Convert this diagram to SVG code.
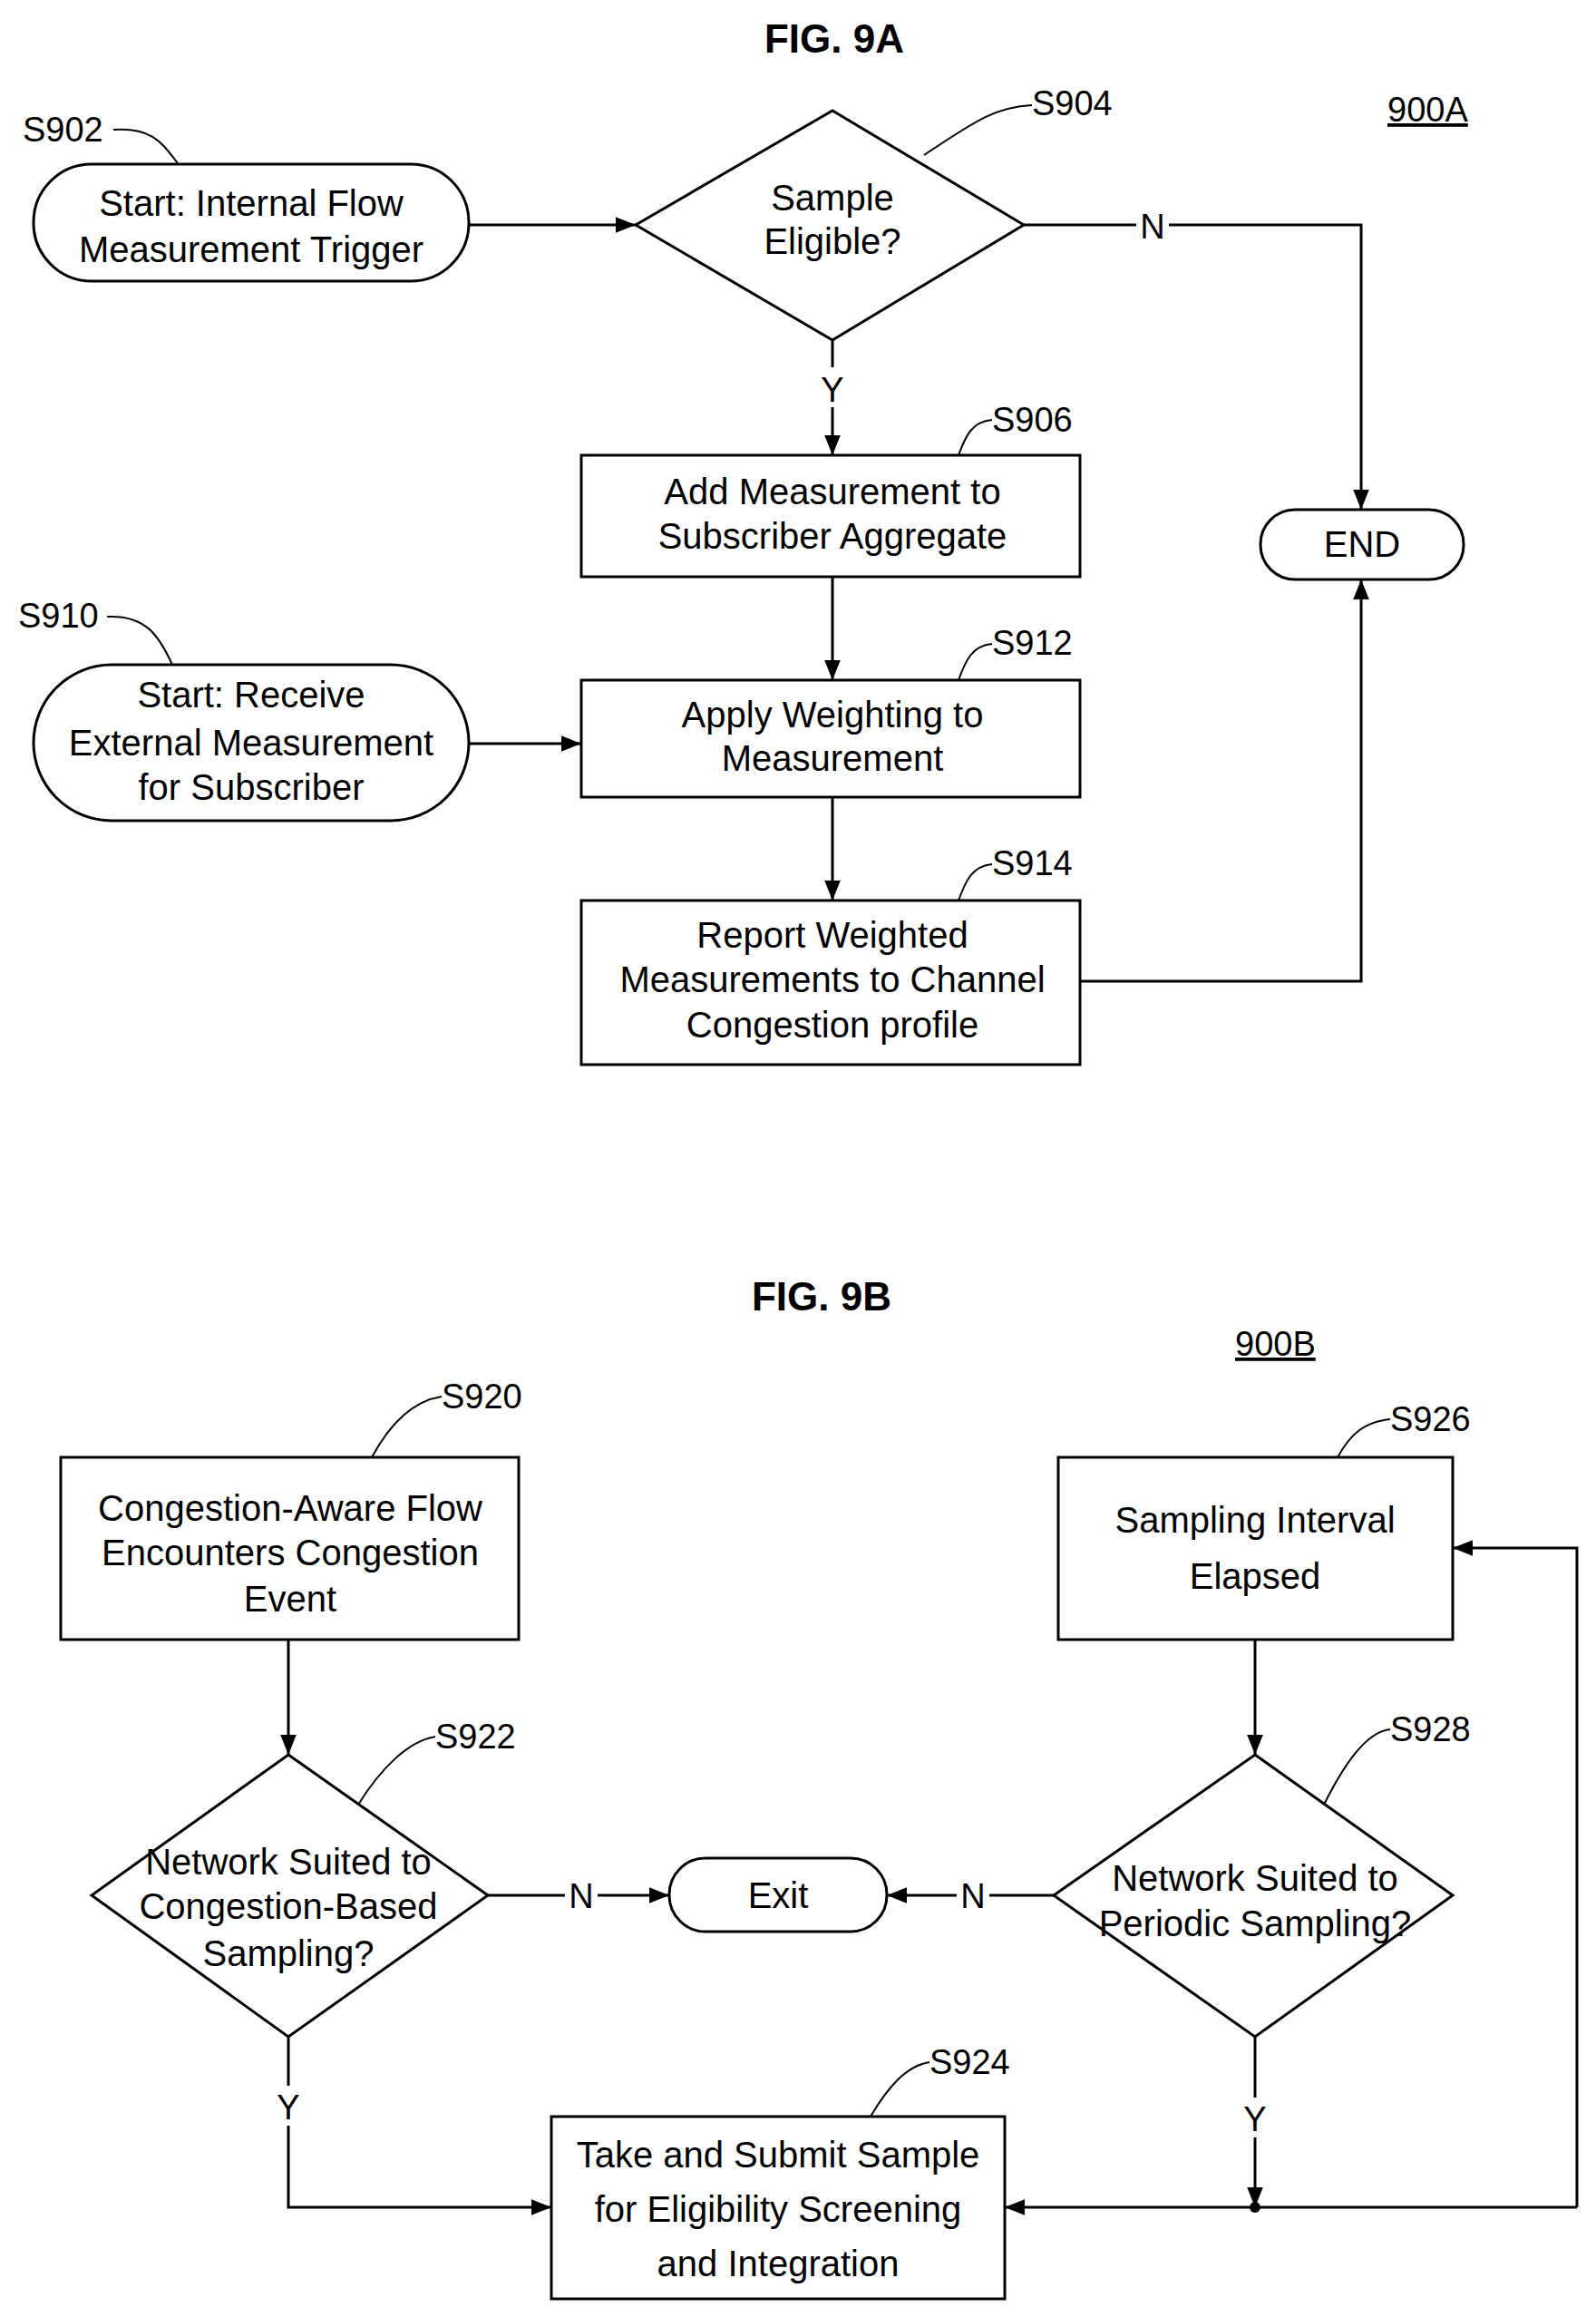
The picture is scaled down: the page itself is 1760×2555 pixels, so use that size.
<svg xmlns="http://www.w3.org/2000/svg" width="1760" height="2555" viewBox="0 0 1760 2555">
<style>
.s{fill:#fff;stroke:#000;stroke-width:3}
.t{font-family:"Liberation Sans Narrow","Liberation Sans",sans-serif;font-size:40px;text-anchor:middle;fill:#000}
.l{font-family:"Liberation Sans Narrow","Liberation Sans",sans-serif;font-size:38px;fill:#000}
.c{fill:none;stroke:#000;stroke-width:3}
.d{fill:none;stroke:#000;stroke-width:2}
.h{font-family:"Liberation Sans Narrow","Liberation Sans",sans-serif;font-size:44px;font-weight:bold;text-anchor:middle}
</style>
<defs><marker id="a" markerWidth="10" markerHeight="10" refX="9" refY="5" orient="auto" markerUnits="userSpaceOnUse" viewBox="0 0 10 10"><path d="M0,0L10,5L0,10z"/></marker>
<marker id="A" viewBox="0 0 10 10" refX="10" refY="5" markerWidth="22" markerHeight="22" orient="auto" markerUnits="userSpaceOnUse"><path d="M0,1L10,5L0,9z"/></marker></defs>
<rect width="1760" height="2555" fill="#fff"/>
<text class="h" x="920" y="58">FIG. 9A</text>
<text class="l" x="1530" y="134" text-decoration="underline">900A</text>
<text class="h" x="906" y="1445">FIG. 9B</text>
<text class="l" x="1362" y="1495" text-decoration="underline">900B</text>
<g id="connectors">
<path class="c" d="M517,248H701" marker-end="url(#A)"/>
<path class="c" d="M1129,248H1501V562" marker-end="url(#A)"/>
<path class="c" d="M918,375V502" marker-end="url(#A)"/>
<path class="c" d="M918,636V750" marker-end="url(#A)"/>
<path class="c" d="M517,820H641" marker-end="url(#A)"/>
<path class="c" d="M918,879V993" marker-end="url(#A)"/>
<path class="c" d="M1191,1082H1501V639" marker-end="url(#A)"/>
<path class="c" d="M318,1808V1935" marker-end="url(#A)"/>
<path class="c" d="M1384,1808V1935" marker-end="url(#A)"/>
<path class="c" d="M538,2090H738" marker-end="url(#A)"/>
<path class="c" d="M1162,2090H978" marker-end="url(#A)"/>
<path class="c" d="M318,2246V2434H608" marker-end="url(#A)"/>
<path class="c" d="M1384,2246V2434" marker-end="url(#A)"/>
<path class="c" d="M1739,2434H1108" marker-end="url(#A)"/>
<path class="c" d="M1739,2434V1707H1602" marker-end="url(#A)"/>
<circle cx="1384" cy="2434" r="6"/>
<rect x="1253" y="228" width="36" height="40" fill="#fff"/><text class="l" x="1271" y="263" text-anchor="middle">N</text>
<rect x="900" y="405" width="36" height="44" fill="#fff"/><text class="l" x="918" y="443" text-anchor="middle">Y</text>
<rect x="623" y="2070" width="36" height="40" fill="#fff"/><text class="l" x="641" y="2104" text-anchor="middle">N</text>
<rect x="1055" y="2070" width="36" height="40" fill="#fff"/><text class="l" x="1073" y="2104" text-anchor="middle">N</text>
<rect x="300" y="2300" width="36" height="44" fill="#fff"/><text class="l" x="318" y="2337" text-anchor="middle">Y</text>
<rect x="1366" y="2313" width="36" height="44" fill="#fff"/><text class="l" x="1384" y="2350" text-anchor="middle">Y</text>
</g>
<g id="S902"><rect class="s" x="37" y="181" width="480" height="129" rx="64"/><text class="t" x="277" y="238">Start: Internal Flow</text><text class="t" x="277" y="289">Measurement Trigger</text>
<text class="l" x="25" y="156">S902</text><path class="d" d="M125,143C170,140 180,160 196,180"/></g>
<g id="S904"><path class="s" d="M918,122L1129,248L918,375L701,248z"/><text class="t" x="918" y="232">Sample</text><text class="t" x="918" y="280">Eligible?</text>
<text class="l" x="1138" y="127">S904</text><path class="d" d="M1019,171C1080,130 1100,118 1138,116"/></g>
<g id="END"><rect class="s" x="1390" y="562" width="224" height="77" rx="38"/><text class="t" x="1502" y="614">END</text></g>
<g id="S906"><rect class="s" x="641" y="502" width="550" height="134"/><text class="t" x="918" y="556">Add Measurement to</text><text class="t" x="918" y="605">Subscriber Aggregate</text>
<text class="l" x="1094" y="476">S906</text><path class="d" d="M1057,502C1065,480 1072,465 1094,463"/></g>
<g id="S910"><rect class="s" x="37" y="733" width="480" height="172" rx="86"/><text class="t" x="277" y="780">Start: Receive</text><text class="t" x="277" y="833">External Measurement</text><text class="t" x="277" y="882">for Subscriber</text>
<text class="l" x="20" y="692">S910</text><path class="d" d="M118,680C160,678 175,700 190,733"/></g>
<g id="S912"><rect class="s" x="641" y="750" width="550" height="129"/><text class="t" x="918" y="802">Apply Weighting to</text><text class="t" x="918" y="850">Measurement</text>
<text class="l" x="1094" y="722">S912</text><path class="d" d="M1057,750C1065,728 1072,712 1094,710"/></g>
<g id="S914"><rect class="s" x="641" y="993" width="550" height="181"/><text class="t" x="918" y="1045">Report Weighted</text><text class="t" x="918" y="1094">Measurements to Channel</text><text class="t" x="918" y="1144">Congestion profile</text>
<text class="l" x="1094" y="965">S914</text><path class="d" d="M1057,993C1065,971 1072,955 1094,953"/></g>
<g id="S920"><rect class="s" x="67" y="1607" width="505" height="201"/><text class="t" x="320" y="1677">Congestion-Aware Flow</text><text class="t" x="320" y="1726">Encounters Congestion</text><text class="t" x="320" y="1777">Event</text>
<text class="l" x="487" y="1553">S920</text><path class="d" d="M410,1607C430,1570 455,1545 487,1540"/></g>
<g id="S926"><rect class="s" x="1167" y="1607" width="435" height="201"/><text class="t" x="1384" y="1690">Sampling Interval</text><text class="t" x="1384" y="1752">Elapsed</text>
<text class="l" x="1533" y="1578">S926</text><path class="d" d="M1475,1607C1490,1580 1505,1568 1533,1565"/></g>
<g id="S922"><path class="s" d="M318,1935L538,2090L318,2246L101,2090z"/><text class="t" x="318" y="2067">Network Suited to</text><text class="t" x="318" y="2116">Congestion-Based</text><text class="t" x="318" y="2168">Sampling?</text>
<text class="l" x="480" y="1928">S922</text><path class="d" d="M395,1990C420,1950 450,1920 480,1915"/></g>
<g id="S928"><path class="s" d="M1384,1935L1602,2090L1384,2246L1162,2090z"/><text class="t" x="1384" y="2085">Network Suited to</text><text class="t" x="1384" y="2135">Periodic Sampling?</text>
<text class="l" x="1533" y="1920">S928</text><path class="d" d="M1460,1990C1480,1950 1505,1910 1533,1907"/></g>
<g id="Exit"><rect class="s" x="738" y="2049" width="240" height="81" rx="40"/><text class="t" x="858" y="2104">Exit</text></g>
<g id="S924"><rect class="s" x="608" y="2334" width="500" height="201"/><text class="t" x="858" y="2390">Take and Submit Sample</text><text class="t" x="858" y="2450">for Eligibility Screening</text><text class="t" x="858" y="2510">and Integration</text>
<text class="l" x="1025" y="2287">S924</text><path class="d" d="M960,2334C980,2300 1000,2278 1025,2274"/></g>
</svg>
